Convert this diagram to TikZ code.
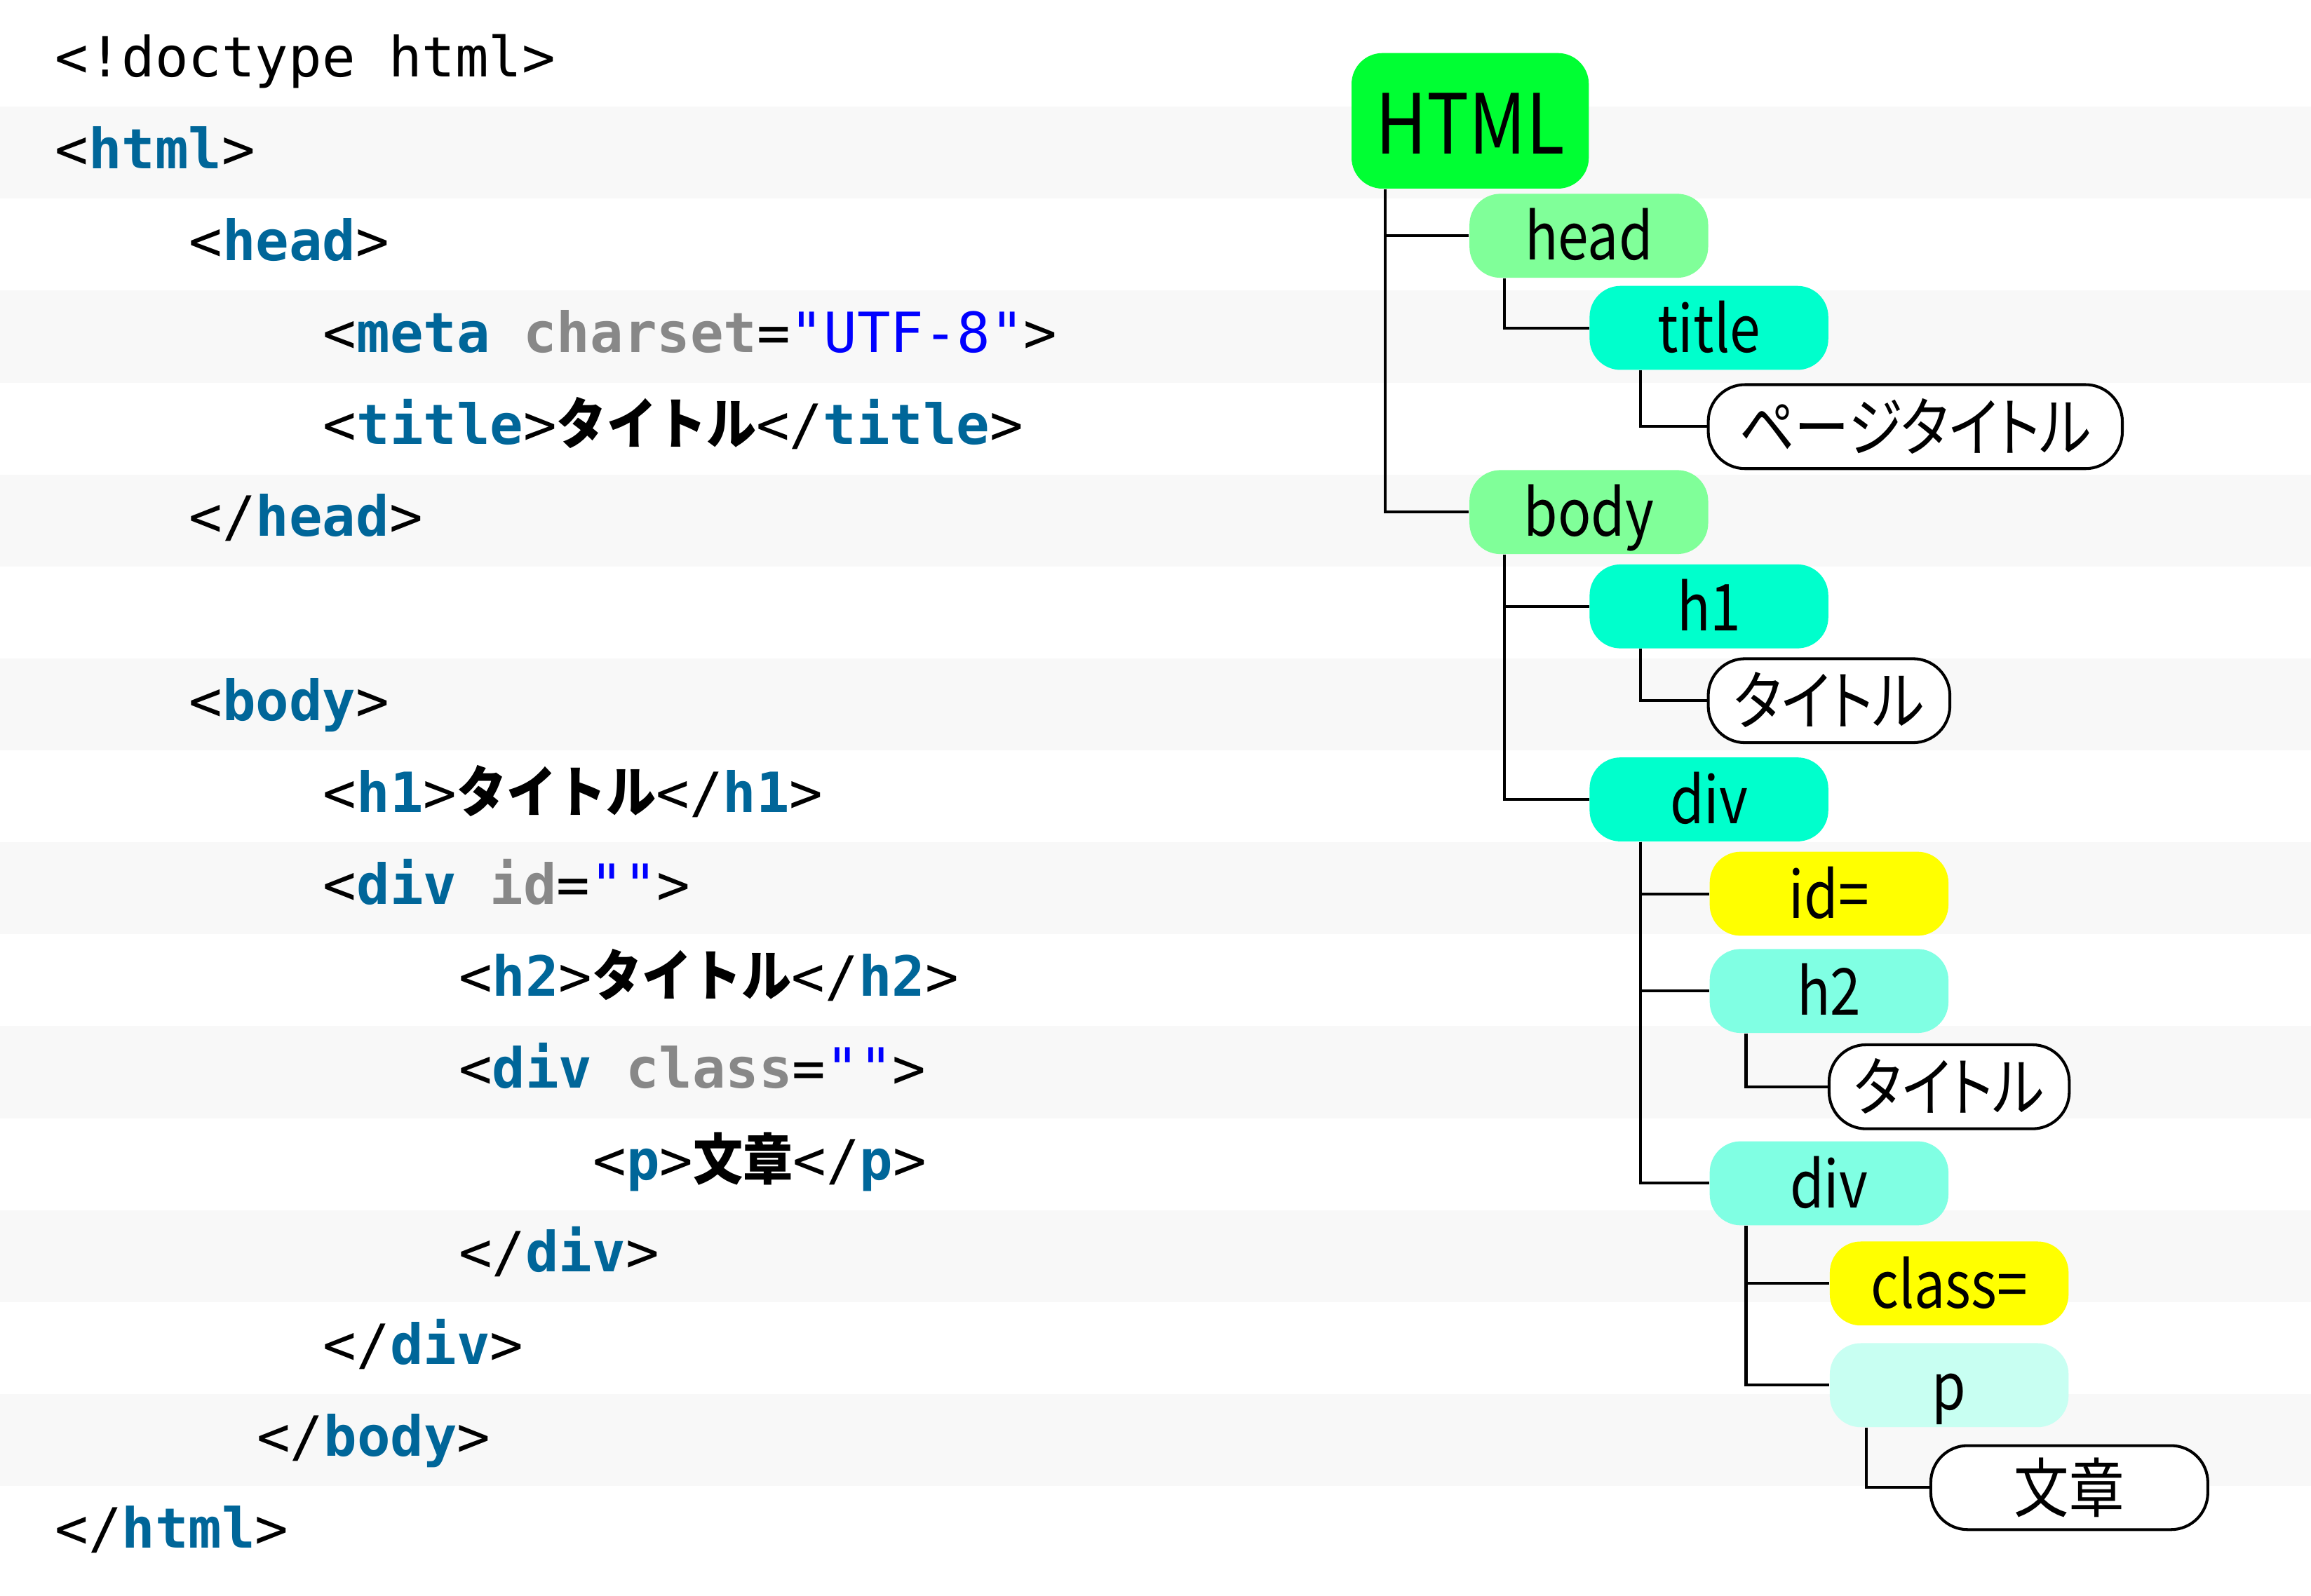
\documentclass[tikz,border=0pt]{standalone}
\usepackage{fontspec}
\newfontfamily\codefont{DejaVu Sans Mono}
\newfontfamily\codejp[FakeStretch=0.9]{Noto Sans CJK JP}
\newfontfamily\treefont[FakeStretch=0.85,RawFeature=+palt]{Noto Sans CJK JP}

\definecolor{stripegray}{HTML}{F8F8F8}
\definecolor{tagblue}{HTML}{006699}
\definecolor{attrgray}{HTML}{888888}
\definecolor{strblue}{HTML}{0000FF}
\definecolor{htmlgreen}{HTML}{00FF33}
\definecolor{headgreen}{HTML}{80FF99}
\definecolor{tagcyan}{HTML}{00FFCC}
\definecolor{lightcyan}{HTML}{80FFE3}
\definecolor{palecyan}{HTML}{C8FFF2}
\definecolor{attryellow}{HTML}{FFFF00}

\newcommand\ctag[1]{{\color{tagblue}\bfseries #1}}
\newcommand\cattr[1]{{\color{attrgray}\bfseries #1}}
\newcommand\cstr[1]{{\color{strblue}#1}}
\newcommand\ckana[1]{{\codejp\bfseries #1}}

\tikzset{
	codeline/.style={anchor=base west, inner sep=0pt, font=\codefont\fontsize{21.4}{26}\selectfont},
	elem/.style={rounded corners=0.42cm, minimum width=3.24cm, minimum height=1.14cm, inner sep=0pt,
		text height=0.66cm, text depth=0cm, font=\treefont\fontsize{25}{30}\selectfont},
	txt/.style={elem, draw, fill=white, line width=1.1pt, rounded corners=0.5cm},
	branch/.style={line width=1.1pt},
}

\begin{document}
\begin{tikzpicture}[x=0.02cm, y=-0.02cm]
	\useasboundingbox (0,0) rectangle (1568,1083);
	\fill[white] (0,0) rectangle (1568,1083);
	\foreach \k in {1,3,...,15}
		\fill[stripegray] (0,{10+\k*62.4}) rectangle (1568,{10+(\k+1)*62.4});

	% source code
	\node[codeline] (ldoctype) at (37,52) {<!doctype html>};
	\node[codeline] (lhtml) at (37,114.4) {<\ctag{html}>};
	\node[codeline] (lhead) at (128,176.8) {<\ctag{head}>};
	\node[codeline] (lmeta) at (219,239.2) {<\ctag{meta} \cattr{charset}=\cstr{"UTF-8"}>};
	\node[codeline] (ltitle) at (219,301.6) {<\ctag{title}>\ckana{タイトル}</\ctag{title}>};
	\node[codeline] (lheadend) at (128,364) {</\ctag{head}>};
	\node[codeline] (lbody) at (128,488.8) {<\ctag{body}>};
	\node[codeline] (lhone) at (219,551.2) {<\ctag{h1}>\ckana{タイトル}</\ctag{h1}>};
	\node[codeline] (ldiv) at (219,613.6) {<\ctag{div} \cattr{id}=\cstr{""}>};
	\node[codeline] (lhtwo) at (311,676) {<\ctag{h2}>\ckana{タイトル}</\ctag{h2}>};
	\node[codeline] (ldivclass) at (311,738.4) {<\ctag{div} \cattr{class}=\cstr{""}>};
	\node[codeline] (lpara) at (402,800.8) {<\ctag{p}>\ckana{文章}</\ctag{p}>};
	\node[codeline] (ldivend) at (311,863.2) {</\ctag{div}>};
	\node[codeline] (ldivouterend) at (219,925.6) {</\ctag{div}>};
	\node[codeline] (lbodyend) at (174,988) {</\ctag{body}>};
	\node[codeline] (lhtmlend) at (37,1050.4) {</\ctag{html}>};

	% tree
	\node[elem, fill=htmlgreen, minimum width=3.22cm, minimum height=1.84cm, text height=0.9cm,
		font=\treefont\fontsize{32}{38}\selectfont] (html) at (997.5,82) {HTML};
	\node[elem, fill=headgreen] (head) at (1078,160) {head};
	\node[elem, fill=tagcyan] (title) at (1159.5,222.5) {title};
	\node[txt, minimum width=5.62cm] (pagetitle) at (1299.5,289.5) {ページタイトル};
	\node[elem, fill=headgreen] (body) at (1078,347.5) {body};
	\node[elem, fill=tagcyan] (hone) at (1159.5,411.5) {h1};
	\node[txt, minimum width=3.28cm] (honetext) at (1241,475.5) {タイトル};
	\node[elem, fill=tagcyan] (divouter) at (1159.5,542.5) {div};
	\node[elem, fill=attryellow] (idattr) at (1241,606.5) {id=};
	\node[elem, fill=lightcyan] (htwo) at (1241,672.5) {h2};
	\node[txt, minimum width=3.26cm] (htwotext) at (1322.5,737.5) {タイトル};
	\node[elem, fill=lightcyan] (divinner) at (1241,803) {div};
	\node[elem, fill=attryellow] (classattr) at (1322.5,871) {class=};
	\node[elem, fill=palecyan] (para) at (1322.5,940) {p};
	\node[txt, minimum width=3.76cm] (paratext) at (1404,1009.5) {文章};

	\draw[branch] (html.south west) ++(23,0) |- (head.west);
	\draw[branch] (html.south west) ++(23,0) |- (body.west);
	\draw[branch] (head.south west) ++(24,0) |- (title.west);
	\draw[branch] (title.south west) ++(35,0) |- (pagetitle.west);
	\draw[branch] (body.south west) ++(24,0) |- (hone.west);
	\draw[branch] (body.south west) ++(24,0) |- (divouter.west);
	\draw[branch] (hone.south west) ++(35,0) |- (honetext.west);
	\draw[branch] (divouter.south west) ++(35,0) |- (idattr.west);
	\draw[branch] (divouter.south west) ++(35,0) |- (htwo.west);
	\draw[branch] (divouter.south west) ++(35,0) |- (divinner.west);
	\draw[branch] (htwo.south west) ++(25,0) |- (htwotext.west);
	\draw[branch] (divinner.south west) ++(25,0) |- (classattr.west);
	\draw[branch] (divinner.south west) ++(25,0) |- (para.west);
	\draw[branch] (para.south west) ++(25,0) |- (paratext.west);
\end{tikzpicture}
\end{document}
